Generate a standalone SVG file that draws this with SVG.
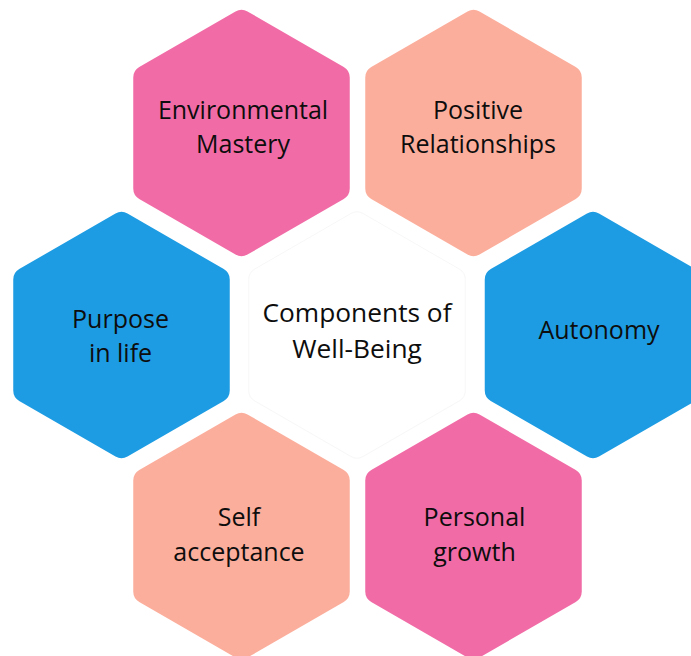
<svg xmlns="http://www.w3.org/2000/svg" width="691" height="656" viewBox="0 0 691 656">
<style>
.lbl{font-family:"Open Sans","Noto Sans",sans-serif;font-size:25px;fill:#0d0d0d;text-anchor:middle}
.big{font-size:26.3px}
.pink{fill:#f16ca6}
.salmon{fill:#fcae9c}
.blue{fill:#1d9ce3}
.core{fill:#ffffff;stroke:#f7f7f7;stroke-width:1}
</style>
<defs>
<path id="hex" d="M-6,-121.54 A12 12 0 0 1 6,-121.54 L102.25,-65.96 A12 12 0 0 1 108.25,-55.57 L108.25,55.57 A12 12 0 0 1 102.25,65.96 L6,121.54 A12 12 0 0 1 -6,121.54 L-102.25,65.96 A12 12 0 0 1 -108.25,55.57 L-108.25,-55.57 A12 12 0 0 1 -102.25,-65.96 Z"/>
</defs>
<rect width="691" height="656" fill="#ffffff"/>
<g id="connectors"></g>
<g id="center">
<use href="#hex" class="core" transform="translate(357,335)"/>
<text class="lbl big" x="357" y="322">Components of</text>
<text class="lbl big" x="357" y="358">Well-Being</text>
</g>
<g id="environmental-mastery">
<use href="#hex" class="pink" transform="translate(241.5,133)"/>
<text class="lbl" x="243" y="119">Environmental</text>
<text class="lbl" x="243" y="153">Mastery</text>
</g>
<g id="positive-relationships">
<use href="#hex" class="salmon" transform="translate(473.5,133)"/>
<text class="lbl" x="478" y="119">Positive</text>
<text class="lbl" x="478" y="153">Relationships</text>
</g>
<g id="purpose-in-life">
<use href="#hex" class="blue" transform="translate(121.5,335)"/>
<text class="lbl" x="120.5" y="328">Purpose</text>
<text class="lbl" x="120.5" y="362">in life</text>
</g>
<g id="autonomy">
<use href="#hex" class="blue" transform="translate(593,335)"/>
<text class="lbl" x="599" y="339">Autonomy</text>
</g>
<g id="self-acceptance">
<use href="#hex" class="salmon" transform="translate(241.5,536)"/>
<text class="lbl" x="239" y="526">Self</text>
<text class="lbl" x="239" y="561">acceptance</text>
</g>
<g id="personal-growth">
<use href="#hex" class="pink" transform="translate(473.5,536)"/>
<text class="lbl" x="474.5" y="526">Personal</text>
<text class="lbl" x="474.5" y="561">growth</text>
</g>
</svg>
